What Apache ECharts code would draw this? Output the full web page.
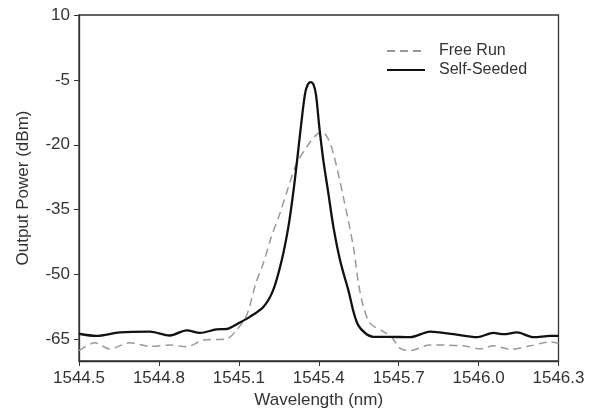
<!DOCTYPE html>
<html>
<head>
<meta charset="utf-8">
<script src="https://cdn.jsdelivr.net/npm/echarts@6/dist/echarts.min.js"></script>
<style>
  html, body { margin: 0; padding: 0; background: #fff; }
  #chart { width: 598px; height: 414px; }
</style>
</head>
<body>
<div id="chart"></div>
<script>
// tick labels
const xTicks = [1544.5, 1544.8, 1545.1, 1545.4, 1545.7, 1546.0, 1546.3];
const yTicks = [-65, -50, -35, -20, -5, 10];

// Self-Seeded trace
const selfWl = [1544.500, 1544.565, 1544.653, 1544.766, 1544.841, 1544.904, 1544.954, 1545.016, 1545.054,
  1545.104, 1545.141, 1545.192, 1545.229, 1545.261, 1545.286, 1545.304, 1545.319, 1545.333, 1545.348,
  1545.358, 1545.370, 1545.381, 1545.390, 1545.402, 1545.417, 1545.436, 1545.455, 1545.480, 1545.511,
  1545.548, 1545.605, 1545.668, 1545.743, 1545.818, 1545.906, 1545.994, 1546.056, 1546.094, 1546.144,
  1546.207, 1546.269, 1546.300];
const selfDbm = [-63.7, -64.2, -63.4, -63.2, -64.1, -62.9, -63.5, -62.7, -62.6,
  -61.1, -59.8, -57.5, -53.6, -46.7, -39, -31.2, -23.5, -15.8, -8.4,
  -6.2, -5.5, -6.2, -8.6, -15.8, -23.5, -31.2, -39, -46.7, -53.6,
  -61.7, -64.4, -64.4, -64.5, -63.2, -63.8, -64.5, -63.5, -63.8, -63.4,
  -64.5, -64.2, -64.2];

// Free Run trace
const freeWl = [1544.500, 1544.559, 1544.615, 1544.691, 1544.766, 1544.841, 1544.904, 1544.966, 1545.054,
  1545.092, 1545.129, 1545.164, 1545.192, 1545.221, 1545.254, 1545.285, 1545.317, 1545.355, 1545.386,
  1545.411, 1545.434, 1545.455, 1545.492, 1545.530, 1545.549, 1545.568, 1545.593, 1545.643, 1545.675,
  1545.706, 1545.743, 1545.818, 1545.943, 1546.006, 1546.056, 1546.119, 1546.194, 1546.269, 1546.300];
const freeDbm = [-67.6, -65.8, -67.2, -65.8, -66.6, -66.3, -66.7, -65.2, -64.9,
  -62.8, -59.5, -52, -47.4, -41.5, -35.9, -30, -24.3, -20.5, -18,
  -17, -18.5, -22, -32, -43.6, -52, -57.5, -61.3, -63.2, -64.6,
  -67.1, -67.6, -66.3, -66.5, -67.2, -66.5, -67.3, -66.5, -65.6, -65.9];

const pair = (xs, ys) => xs.map((x, i) => [x, ys[i]]);

const myChart = echarts.init(document.getElementById('chart'));
const font = "'Liberation Sans', Arial, sans-serif";

const option = {
  animation: false,
  textStyle: { fontFamily: font },
  grid: {
    left: 79, right: 39.5, top: 15, bottom: 53,
    show: true, borderColor: '#333', borderWidth: 1.3, backgroundColor: 'transparent',
    outerBoundsMode: 'none'
  },
  legend: {
    orient: 'vertical',
    left: 381, top: 38,
    itemWidth: 38, itemHeight: 12, itemGap: 3,
    itemStyle: { opacity: 0 },
    textStyle: { fontSize: 16, color: '#333', fontFamily: font, padding: [0, 0, 0, 9] },
    data: ['Free Run', 'Self-Seeded']
  },
  xAxis: {
    type: 'value',
    min: 1544.5, max: 1546.3,
    name: 'Wavelength (nm)', nameLocation: 'middle', nameGap: 31,
    nameTextStyle: { fontSize: 17, color: '#333' },
    axisLine: { onZero: false, lineStyle: { color: '#333', width: 1.3 } },
    axisTick: { show: true, length: 5, customValues: xTicks, lineStyle: { color: '#333' } },
    axisLabel: { customValues: xTicks, fontSize: 17, color: '#333', margin: 9,
      formatter: v => v.toFixed(1) },
    splitLine: { show: false }
  },
  yAxis: {
    type: 'value',
    min: -70, max: 10,
    name: 'Output Power (dBm)', nameLocation: 'middle', nameGap: 47,
    nameTextStyle: { fontSize: 17, color: '#333' },
    axisLine: { show: true, onZero: false, lineStyle: { color: '#333', width: 1.3 } },
    axisTick: { show: true, length: 5, customValues: yTicks, lineStyle: { color: '#333' } },
    axisLabel: { customValues: yTicks, fontSize: 17, color: '#333', margin: 9 },
    splitLine: { show: false }
  },
  series: [
    {
      name: 'Free Run', type: 'line', smooth: 0.3, symbol: 'none',
      data: pair(freeWl, freeDbm),
      lineStyle: { color: '#999', width: 1.5, type: [8, 5] },
      itemStyle: { color: '#999' }
    },
    {
      name: 'Self-Seeded', type: 'line', smooth: 0.3, symbol: 'none',
      data: pair(selfWl, selfDbm),
      lineStyle: { color: '#111', width: 2.3 },
      itemStyle: { color: '#111' }
    }
  ]
};

myChart.setOption(option);
window.addEventListener('resize', () => myChart.resize());
</script>
</body>
</html>
